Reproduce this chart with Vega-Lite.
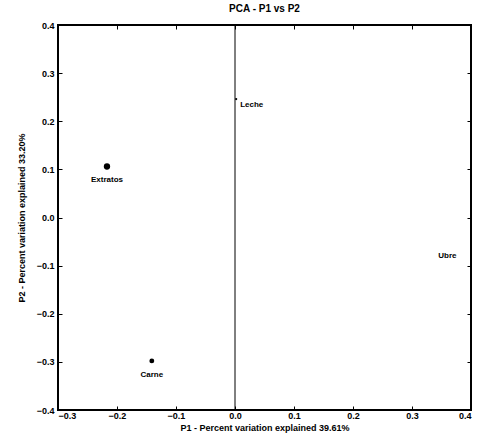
{
  "$schema": "https://vega.github.io/schema/vega-lite/v6.json",
  "width": 413,
  "height": 385,
  "autosize": {"type": "none"},
  "padding": {"left": 58, "top": 25, "right": 11, "bottom": 34},
  "background": "white",
  "title": {
    "text": "PCA - P1 vs P2",
    "font": "Liberation Sans",
    "fontSize": 10,
    "fontWeight": "bold",
    "color": "black",
    "anchor": "middle",
    "offset": 7
  },
  "config": {
    "view": {"stroke": "black", "strokeWidth": 2},
    "axis": {
      "grid": false,
      "domain": false,
      "tickColor": "black",
      "tickSize": -4,
      "tickWidth": 1,
      "labelFont": "Liberation Sans",
      "labelFontSize": 9,
      "labelFontWeight": "bold",
      "labelColor": "black",
      "titleFont": "Liberation Sans",
      "titleFontSize": 9,
      "titleFontWeight": "bold",
      "titleColor": "black"
    }
  },
  "data": {
    "values": [
      {"sample": "Extratos", "p1": -0.217, "p2": 0.106, "weight": 40, "pos": "below"},
      {"sample": "Carne", "p1": -0.141, "p2": -0.298, "weight": 24, "pos": "below"},
      {"sample": "Leche", "p1": 0.002, "p2": 0.246, "weight": 5, "pos": "right"},
      {"sample": "Ubre", "p1": 0.36, "p2": -0.08, "weight": 0, "pos": "center"}
    ]
  },
  "layer": [
    {
      "mark": {"type": "point", "filled": true, "color": "black", "opacity": 1, "shape": "circle"},
      "encoding": {
        "x": {
          "field": "p1",
          "type": "quantitative",
          "scale": {"domain": [-0.3, 0.4], "nice": false, "zero": false},
          "axis": {
            "orient": "bottom",
            "values": [-0.3, -0.2, -0.1, 0, 0.1, 0.2, 0.3, 0.4],
            "format": ".1f",
            "labelPadding": 5,
            "title": "P1 - Percent variation explained 39.61%",
            "titlePadding": 3
          }
        },
        "y": {
          "field": "p2",
          "type": "quantitative",
          "scale": {"domain": [-0.4, 0.4], "nice": false, "zero": false},
          "axis": {
            "orient": "left",
            "values": [-0.4, -0.3, -0.2, -0.1, 0, 0.1, 0.2, 0.3, 0.4],
            "format": ".1f",
            "labelPadding": 8,
            "title": "P2 - Percent variation explained 33.20%",
            "titlePadding": 10
          }
        },
        "size": {"field": "weight", "type": "quantitative", "scale": {"domain": [0, 40], "range": [0, 40]}, "legend": null}
      }
    },
    {
      "mark": {"type": "rule", "color": "black", "strokeWidth": 1},
      "data": {"values": [{"zero": 0}]},
      "encoding": {
        "x": {"field": "zero", "type": "quantitative", "axis": null}
      }
    },
    {
      "transform": [{"filter": "datum.pos === 'below'"}],
      "mark": {"type": "text", "dy": 14, "align": "center", "font": "Liberation Sans", "fontSize": 8, "fontWeight": "bold", "color": "black"},
      "encoding": {
        "x": {"field": "p1", "type": "quantitative", "axis": null},
        "y": {"field": "p2", "type": "quantitative", "axis": null},
        "text": {"field": "sample"}
      }
    },
    {
      "transform": [{"filter": "datum.pos === 'right'"}],
      "mark": {"type": "text", "dx": 4, "dy": 6, "align": "left", "font": "Liberation Sans", "fontSize": 8, "fontWeight": "bold", "color": "black"},
      "encoding": {
        "x": {"field": "p1", "type": "quantitative", "axis": null},
        "y": {"field": "p2", "type": "quantitative", "axis": null},
        "text": {"field": "sample"}
      }
    },
    {
      "transform": [{"filter": "datum.pos === 'center'"}],
      "mark": {"type": "text", "align": "center", "font": "Liberation Sans", "fontSize": 8, "fontWeight": "bold", "color": "black"},
      "encoding": {
        "x": {"field": "p1", "type": "quantitative", "axis": null},
        "y": {"field": "p2", "type": "quantitative", "axis": null},
        "text": {"field": "sample"}
      }
    },
    {
      "mark": {"type": "point", "opacity": 0},
      "encoding": {
        "x": {
          "field": "p1",
          "type": "quantitative",
          "axis": {"orient": "top", "values": [-0.3, -0.2, -0.1, 0, 0.1, 0.2, 0.3, 0.4], "labels": false, "title": null}
        },
        "y": {
          "field": "p2",
          "type": "quantitative",
          "axis": {"orient": "right", "values": [-0.4, -0.3, -0.2, -0.1, 0, 0.1, 0.2, 0.3, 0.4], "labels": false, "title": null}
        }
      }
    }
  ],
  "resolve": {"axis": {"x": "independent", "y": "independent"}}
}
